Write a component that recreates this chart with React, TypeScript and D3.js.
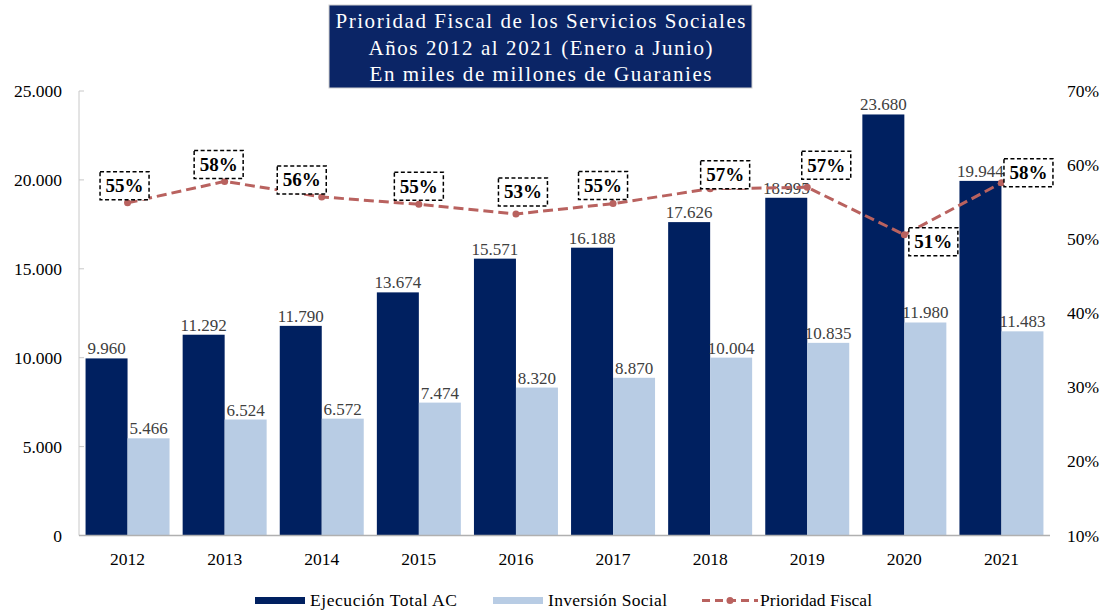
import React from "react";
import * as d3 from "d3";

const years = ["2012", "2013", "2014", "2015", "2016", "2017", "2018", "2019", "2020", "2021"];
const ejecucion = [9960, 11292, 11790, 13674, 15571, 16188, 17626, 18995, 23680, 19944];
const inversion = [5466, 6524, 6572, 7474, 8320, 8870, 10004, 10835, 11980, 11483];
const prioridad = [54.9, 57.8, 55.7, 54.7, 53.4, 54.8, 56.8, 57.0, 50.6, 57.6];
const leftTicks = [0, 5000, 10000, 15000, 20000, 25000];
const rightTicks = [10, 20, 30, 40, 50, 60, 70];
const titleLines = [
  "Prioridad Fiscal de los Servicios Sociales",
  "Años 2012 al 2021 (Enero a Junio)",
  "En miles de millones de Guaranies",
];
const legendLabels = ["Ejecución Total AC", "Inversión Social", "Prioridad Fiscal"];

// layout: offsets of percentage label boxes from their points, title/legend text widths
const labelOffsets: [number, number][] = [
  [-3, -17], [-6, -17], [-20, -17], [0, -18], [7, -22],
  [-10, -18], [15, -14], [19, -22], [29, 7], [27, -10],
];
const titleWidths = [410, 344, 342];
const legendWidths = [147, 119, 112];

const DARK = "#002060";
const LIGHT = "#b8cce4";
const LINE = "#b9625f";
const FONT = "'Liberation Serif', 'Times New Roman', serif";

const locale = d3.formatLocale({ decimal: ",", thousands: ".", grouping: [3], currency: ["", ""] });
const fmt = locale.format(",d");

export default function App() {
  const W = 1105, H = 610;
  const left = 79, right = 1050, top = 91, bottom = 535.5;

  const x = d3.scaleBand<string>().domain(years).range([left, right]).paddingInner(0.135).paddingOuter(0.0675);
  const bw = x.bandwidth() / 2;
  const yL = d3.scaleLinear().domain([0, 25000]).range([bottom, top]);
  const yR = d3.scaleLinear().domain([10, 70]).range([bottom, top]);
  const cx = (y: string) => (x(y) as number) + x.bandwidth() / 2;

  const line = d3.line<number>().x((_, i) => cx(years[i])).y((d) => yR(d));

  return (
    <svg width={W} height={H} style={{ position: "absolute", left: 0, top: 0, background: "#fff" }} fontFamily={FONT}>
      {/* title */}
      <rect x={329} y={5} width={423} height={83} fill="#0b2566" stroke="#d0d0d0" strokeWidth={1} />
      {titleLines.map((t, i) => (
        <text key={i} x={540.5} y={28 + i * 26.5} textAnchor="middle" fill="#fff" fontSize={21}
          textLength={titleWidths[i]} lengthAdjust="spacing">
          {t}
        </text>
      ))}

      {/* left axis */}
      <line x1={left} x2={left} y1={top} y2={bottom} stroke="#c8c8c8" strokeWidth={1} />
      {leftTicks.map((t) => (
        <g key={t}>
          <line x1={left} x2={left + 5} y1={yL(t)} y2={yL(t)} stroke="#c8c8c8" />
          <text x={62} y={yL(t) + 6} textAnchor="end" fontSize={17.5} fill="#000">
            {t === 0 ? "0" : fmt(t)}
          </text>
        </g>
      ))}
      {/* right axis labels */}
      {rightTicks.map((t) => (
        <text key={t} x={1067} y={yR(t) + 6} textAnchor="start" fontSize={17.5} fill="#000">
          {t}%
        </text>
      ))}

      {/* bars */}
      {years.map((yr, i) => (
        <g key={yr}>
          <rect x={x(yr)} y={yL(ejecucion[i])} width={bw} height={bottom - yL(ejecucion[i])} fill={DARK} />
          <rect x={(x(yr) as number) + bw} y={yL(inversion[i])} width={bw} height={bottom - yL(inversion[i])} fill={LIGHT} />
          <text x={(x(yr) as number) + bw / 2} y={yL(ejecucion[i]) - 4} textAnchor="middle" fontSize={17} fill="#404040">
            {fmt(ejecucion[i])}
          </text>
          <text x={(x(yr) as number) + bw * 1.5} y={yL(inversion[i]) - 4} textAnchor="middle" fontSize={17} fill="#404040">
            {fmt(inversion[i])}
          </text>
          <text x={cx(yr)} y={565} textAnchor="middle" fontSize={17.5} fill="#000">
            {yr}
          </text>
        </g>
      ))}

      {/* x axis */}
      <line x1={left} x2={right} y1={bottom} y2={bottom} stroke="#b0b0b0" strokeWidth={1.5} />

      {/* line */}
      <path d={line(prioridad) as string} fill="none" stroke={LINE} strokeWidth={3} strokeDasharray="10,5" />
      {prioridad.map((p, i) => (
        <circle key={i} cx={cx(years[i])} cy={yR(p)} r={3.5} fill={LINE} />
      ))}
      {prioridad.map((p, i) => {
        const bx = cx(years[i]) + labelOffsets[i][0];
        const by = yR(p) + labelOffsets[i][1];
        return (
          <g key={"l" + i}>
            <rect x={bx - 24.5} y={by - 14} width={49} height={28} fill="#fff" stroke="#000" strokeWidth={1.5} strokeDasharray="4,2.5" />
            <text x={bx} y={by + 6.5} textAnchor="middle" fontSize={19} fontWeight="bold" fill="#000">
              {Math.round(p)}%
            </text>
          </g>
        );
      })}

      {/* legend */}
      <rect x={255} y={597} width={50} height={7} fill={DARK} />
      <text x={310} y={606} fontSize={17.5} fill="#000" textLength={legendWidths[0]} lengthAdjust="spacing">{legendLabels[0]}</text>
      <rect x={493} y={597} width={50} height={7} fill={LIGHT} />
      <text x={548} y={606} fontSize={17.5} fill="#000" textLength={legendWidths[1]} lengthAdjust="spacing">{legendLabels[1]}</text>
      <line x1={702} x2={758} y1={600.5} y2={600.5} stroke={LINE} strokeWidth={3} strokeDasharray="8,5" />
      <circle cx={730} cy={600.5} r={3.5} fill={LINE} />
      <text x={760} y={606} fontSize={17.5} fill="#000" textLength={legendWidths[2]} lengthAdjust="spacing">{legendLabels[2]}</text>
    </svg>
  );
}
